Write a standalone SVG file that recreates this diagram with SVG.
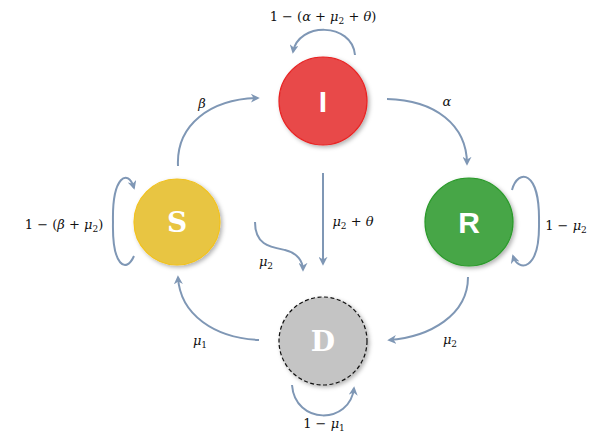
<svg xmlns="http://www.w3.org/2000/svg" width="613" height="443" viewBox="0 0 613 443">
<defs>
<filter id="sh" x="-30%" y="-30%" width="160%" height="160%">
<feDropShadow dx="2" dy="2" stdDeviation="2" flood-color="#000" flood-opacity="0.3"/>
</filter>
<marker id="ah" viewBox="0 0 10 10" refX="8" refY="5" markerWidth="4.5" markerHeight="4.5" orient="auto" markerUnits="strokeWidth">
<path d="M0,0 L10,5 L0,10 L3,5 Z" fill="#7F97B5"/>
</marker>
</defs>
<style>
.c{fill:none;stroke:#7F97B5;stroke-width:2;marker-end:url(#ah)}
.lb{font-family:"DejaVu Serif","Liberation Serif",serif;font-size:13px;fill:#111}
.it{font-style:italic}
.sub{font-size:9px}
.ns{font-family:"Liberation Sans","DejaVu Sans",sans-serif;font-weight:bold;font-size:30px;fill:#fff}
.nr{font-family:"DejaVu Serif","Liberation Serif",serif;font-weight:bold;font-size:28px;fill:#fff}
</style>
<rect width="613" height="443" fill="#fff"/>
<g id="connectors">
<path class="c" d="M355,55 C352,22 298,22 293,52"/>
<path class="c" d="M178,166 C176,125 210,99 258,98"/>
<path class="c" d="M387,99 C435,100 467,125 467,164"/>
<path class="c" d="M512,190 C518,168 540,170 539,222 C540,272 518,272 513,256"/>
<path class="c" d="M468,277 C468,315 430,337 389,340"/>
<path class="c" d="M259,340 C215,338 180,315 178,277"/>
<path class="c" d="M134,256 C126,274 112,266 113,222 C112,176 128,168 134,188"/>
<path class="c" d="M323,173 L323,264"/>
<path class="c" d="M255,222 C255,245 270,247 285,250 C298,253 303,262 303,270"/>
<path class="c" d="M292,385 C295,425 350,425 354,388"/>
</g>
<g id="labels">
<text class="lb" x="323" y="21" text-anchor="middle">1 − (<tspan class="it">α</tspan> + <tspan class="it">μ</tspan><tspan class="sub" dy="3">2</tspan><tspan dy="-3"> + </tspan><tspan class="it">θ</tspan>)</text>
<text class="lb it" x="202" y="108" text-anchor="middle">β</text>
<text class="lb it" x="447" y="106" text-anchor="middle">α</text>
<text class="lb" x="64" y="229" text-anchor="middle">1 − (<tspan class="it">β</tspan> + <tspan class="it">μ</tspan><tspan class="sub" dy="3">2</tspan><tspan dy="-3">)</tspan></text>
<text class="lb" x="566" y="230" text-anchor="middle">1 − <tspan class="it">μ</tspan><tspan class="sub" dy="3">2</tspan></text>
<text class="lb" x="353" y="226" text-anchor="middle"><tspan class="it">μ</tspan><tspan class="sub" dy="3">2</tspan><tspan dy="-3"> + </tspan><tspan class="it">θ</tspan></text>
<text class="lb" x="266" y="266" text-anchor="middle"><tspan class="it">μ</tspan><tspan class="sub" dy="3">2</tspan></text>
<text class="lb" x="450" y="344" text-anchor="middle"><tspan class="it">μ</tspan><tspan class="sub" dy="3">2</tspan></text>
<text class="lb" x="200" y="345" text-anchor="middle"><tspan class="it">μ</tspan><tspan class="sub" dy="3">1</tspan></text>
<text class="lb" x="324" y="428" text-anchor="middle">1 − <tspan class="it">μ</tspan><tspan class="sub" dy="3">1</tspan></text>
</g>
<g id="node-I">
<circle cx="323" cy="101" r="44" fill="#E84848" stroke="#E82424" stroke-width="1.2" filter="url(#sh)"/>
<text class="ns" x="323" y="112" text-anchor="middle">I</text>
</g>
<g id="node-S">
<circle cx="177" cy="222" r="43" fill="#E8C543" stroke="#F2C21C" stroke-width="1.2" filter="url(#sh)"/>
<text class="nr" x="177" y="232" text-anchor="middle">S</text>
</g>
<g id="node-R">
<circle cx="469" cy="222" r="44" fill="#47A647" stroke="#2A9A2A" stroke-width="1.2" filter="url(#sh)"/>
<text class="ns" x="469" y="233" text-anchor="middle">R</text>
</g>
<g id="node-D">
<circle cx="323" cy="341" r="44" fill="#C4C4C4" stroke="#111" stroke-width="1.2" stroke-dasharray="4 2.5" filter="url(#sh)"/>
<text class="nr" x="323" y="351" text-anchor="middle">D</text>
</g>
</svg>
